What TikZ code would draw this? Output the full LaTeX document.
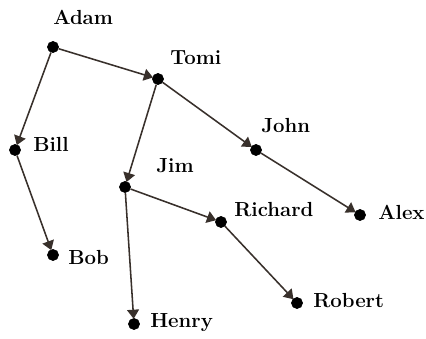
\documentclass[tikz,border=0pt]{standalone}
\usetikzlibrary{arrows.meta}
\definecolor{linkgray}{rgb}{0.22,0.19,0.17}
\tikzset{
  person/.style={circle, fill=black, draw=black, inner sep=0pt, minimum size=0.28cm},
  personlabel/.style={anchor=west, inner sep=0pt, text height=1.45ex, text depth=0pt, font=\fontsize{14.5}{16}\selectfont\bfseries},
  link/.style={draw=linkgray, line width=1.1pt, -{Triangle[length=6.5pt, width=8.5pt]}, shorten >=-0.5pt},
}

\begin{document}
\begin{tikzpicture}[x=0.025cm, y=-0.025cm]
\useasboundingbox (0,0) rectangle (426,339);
\node[person] (adam) at (53,47) {};
\node[person] (tomi) at (158,79) {};
\node[person] (bill) at (15,150) {};
\node[person] (john) at (256,150) {};
\node[person] (jim) at (125,187) {};
\node[person] (richard) at (221,222) {};
\node[person] (alex) at (360,215) {};
\node[person] (bob) at (53,255) {};
\node[person] (robert) at (297,303) {};
\node[person] (henry) at (134,324) {};
\node[personlabel] (adamtext) at (53,20) {Adam};
\node[personlabel] (tomitext) at (170,60) {Tomi};
\node[personlabel] (billtext) at (33,147) {Bill};
\node[personlabel] (johntext) at (261,128) {John};
\node[personlabel] (jimtext) at (156,168) {Jim};
\node[personlabel] (richardtext) at (234,212) {Richard};
\node[personlabel] (alextext) at (378,215) {Alex};
\node[personlabel] (bobtext) at (68,260) {Bob};
\node[personlabel] (roberttext) at (313,303) {Robert};
\node[personlabel] (henrytext) at (150,323) {Henry};
\draw[link] (adam) -- (tomi);
\draw[link] (adam) -- (bill);
\draw[link] (tomi) -- (john);
\draw[link] (tomi) -- (jim);
\draw[link] (john) -- (alex);
\draw[link] (bill) -- (bob);
\draw[link] (jim) -- (richard);
\draw[link] (jim) -- (henry);
\draw[link] (richard) -- (robert);
\end{tikzpicture}
\end{document}
